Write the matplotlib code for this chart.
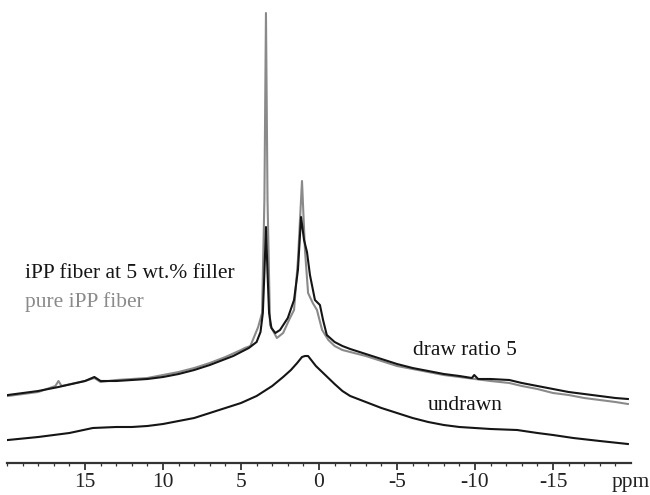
import matplotlib
matplotlib.use("Agg")
import matplotlib.pyplot as plt
import numpy as np

plt.rcParams['font.family'] = ['Liberation Serif', 'DejaVu Serif']
plt.rcParams['axes.unicode_minus'] = False

# chemical shift (ppm) and intensity (arbitrary units)
# draw ratio 5, iPP fiber at 5 wt.% filler (black)
filler_ppm = [19.94, 18.0, 16.7, 15.0, 14.4, 14.0, 13.0, 12.0, 11.0, 10.0, 9.0, 8.0, 7.0, 6.0,
              5.5, 5.0, 4.5, 4.0, 3.75, 3.6, 3.5, 3.4, 3.3, 3.2, 3.05, 2.8, 2.5, 2.0, 1.6, 1.35,
              1.15, 0.96, 0.77, 0.58, 0.26, -0.06, -0.26, -0.5, -1.0, -1.5, -2.0, -3.0, -4.0,
              -5.0, -6.0, -7.0, -8.0, -9.0, -9.8, -9.95, -10.2, -11.0, -12.2, -13.0, -14.0,
              -15.0, -16.0, -17.0, -18.0, -19.0, -19.8]
filler_int = [68, 72, 76, 82, 86, 82, 82, 83, 84, 86, 89, 93, 98, 104,
              107, 111, 115, 121, 131, 150, 190, 236, 190, 150, 135, 130, 133, 145, 163, 193,
              246, 223, 211, 188, 163, 158, 143, 128, 121, 117, 114, 109, 104,
              99, 95, 92, 89, 87, 85, 88, 84, 84, 83, 80, 77,
              74, 71, 69, 67, 65, 64]

# draw ratio 5, pure iPP fiber (grey)
pure_ppm = [19.94, 18.0, 16.9, 16.7, 16.5, 15.0, 14.4, 14.0, 13.0, 12.0, 11.0, 10.0, 9.0, 8.0,
            7.0, 6.0, 5.0, 4.75, 4.4, 3.9, 3.65, 3.5, 3.4, 3.3, 3.14, 2.7, 2.3, 1.86, 1.6,
            1.35, 1.09, 0.9, 0.7, 0.4, 0.13, 0.0, -0.2, -0.6, -1.0, -1.5, -2.0, -3.0, -4.0,
            -5.0, -6.0, -7.0, -8.0, -9.0, -10.0, -11.0, -12.2, -13.0, -14.0, -15.0, -16.0,
            -17.0, -18.0, -19.0, -19.8]
pure_int = [67, 71, 77, 82, 77, 82, 85, 81, 83, 84, 85, 88, 91, 95,
            100, 106, 113, 115, 117, 136, 150, 263, 450, 263, 138, 125, 130, 145, 153,
            203, 282, 213, 170, 160, 153, 145, 133, 123, 117, 113, 111, 107, 102,
            97, 94, 91, 88, 86, 84, 82, 80, 77, 74, 70, 68,
            65, 63, 61, 59]

# undrawn fiber (black)
undrawn_ppm = [19.94, 18.0, 16.0, 14.5, 13.0, 12.0, 11.0, 10.0, 9.0, 8.0, 7.0, 6.0, 5.0, 4.0,
               3.0, 2.3, 1.8, 1.4, 1.09, 0.9, 0.7, 0.5, 0.2, -0.4, -1.0, -1.5, -2.0, -3.0,
               -4.0, -5.0, -6.0, -7.0, -8.0, -9.0, -10.0, -11.0, -12.7, -14.0, -15.0, -16.3,
               -18.0, -19.8]
undrawn_int = [23, 26, 30, 35, 36, 36, 37, 39, 42, 45, 50, 55, 60, 67,
               77, 86, 93, 100, 106, 107, 107, 103, 97, 88, 79, 72, 67, 61,
               55, 50, 45, 41, 38, 36, 35, 34, 33, 30, 28, 25,
               22, 19]

tick_pos = [15, 10, 5, 0, -5, -10, -15, -20]
tick_lab = ['15', '10', '5', '0', '-5', '-10', '-15', 'ppm']

fig = plt.figure(figsize=(6.5, 4.95), dpi=100)
ax = fig.add_axes([7 / 650, 32 / 495, 624 / 650, 463 / 495])

ax.plot(pure_ppm, pure_int, color='#8a8a8a', lw=1.5)
ax.plot(filler_ppm, filler_int, color='#151515', lw=1.5)
ax.plot(undrawn_ppm, undrawn_int, color='#151515', lw=1.5)

ax.set_xlim(20, -20)
ax.set_ylim(0, 463)

for s in ['left', 'top', 'right']:
    ax.spines[s].set_visible(False)
ax.spines['bottom'].set_linewidth(1.6)
ax.spines['bottom'].set_color('#333333')
ax.set_yticks([])

ax.set_xticks(tick_pos)
ax.set_xticklabels(tick_lab, fontsize=15.5)
ax.set_xticks(np.arange(-20, 21, 1), minor=True)
ax.tick_params(axis='x', which='major', direction='out', length=5, width=1.2, pad=2, colors='#222222')
ax.tick_params(axis='x', which='minor', direction='out', length=2.5, width=0.9, colors='#333333')
ax.xaxis.get_major_ticks()[-1].tick1line.set_visible(False)

ax.text(18.85, 185, 'iPP fiber at 5 wt.% filler', fontsize=15.5, color='#151515')
ax.text(18.85, 156, 'pure iPP fiber', fontsize=15.5, color='#8a8a8a')
ax.text(-6.0, 108, 'draw ratio 5', fontsize=15.5, color='#151515')
ax.text(-7.0, 53, 'undrawn', fontsize=15.5, color='#151515')

fig.savefig('out.png', dpi=100)
